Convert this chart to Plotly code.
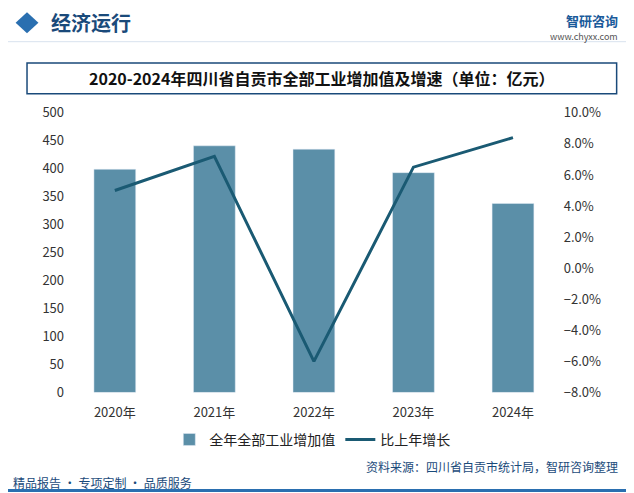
import plotly.graph_objects as go

years = ['2020年', '2021年', '2022年', '2023年', '2024年']
value = [399, 441, 435, 393, 338]
growth = [5.0, 7.2, -6.0, 6.5, 8.4]

font = 'Noto Sans CJK SC'
fig = go.Figure()
fig.add_trace(go.Bar(x=years, y=value, name='全年全部工业增加值', marker_color='#5b8fa8', width=0.42))
fig.add_trace(go.Scatter(x=years, y=growth, name='比上年增长', yaxis='y2', mode='lines',
                         line=dict(color='#1a5a73', width=3)))

fig.update_layout(
    width=634, height=493, margin=dict(l=0, r=0, t=0, b=0),
    plot_bgcolor='white', paper_bgcolor='white',
    font=dict(family=font, size=13, color='#333'),
    xaxis=dict(domain=[0.09, 0.875], showline=False, tickfont=dict(size=13),
               ticks='outside', ticklen=8, tickcolor='rgba(0,0,0,0)'),
    yaxis=dict(domain=[0.21, 0.80], range=[0, 500], dtick=50, showgrid=False, tickfont=dict(size=13)),
    yaxis2=dict(overlaying='y', side='right', range=[-8, 10], dtick=2, ticksuffix='%',
                tickformat='.1f', showgrid=False, tickfont=dict(size=13)),
    legend=dict(orientation='h', x=0.48, xanchor='center', y=0.11, yanchor='middle',
                font=dict(size=14, color='#222')),
    bargap=0.5,
    shapes=[
        dict(type='rect', xref='paper', yref='paper', x0=0.03, x1=0.96, y0=0.84, y1=0.905,
             line=dict(color='#1a4a7a', width=1.5), fillcolor='white', layer='below'),
        dict(type='path', xref='paper', yref='paper',
             path='M 0.012 0.99 L 0.030 1.012 L 0.048 0.99 L 0.030 0.968 Z',
             line_width=0, fillcolor='#2a6fb0'),
        dict(type='line', xref='paper', yref='paper', x0=0, x1=1, y0=0.95, y1=0.95,
             line=dict(color='#d8e2ee', width=1)),
        dict(type='line', xref='paper', yref='paper', x0=0, x1=1, y0=0.003, y1=0.003,
             line=dict(color='#2a6fb0', width=3)),
    ],
    annotations=[
        dict(text='<b>经济运行</b>', x=0.065, y=0.99, xref='paper', yref='paper', showarrow=False,
             xanchor='left', yanchor='middle', font=dict(size=20, color='#1a4a7a')),
        dict(text='<b>智研咨询</b>', x=0.965, y=0.995, xref='paper', yref='paper', showarrow=False,
             xanchor='right', yanchor='middle', font=dict(size=13, color='#1a5a9a')),
        dict(text='www.chyxx.com', x=0.965, y=0.96, xref='paper', yref='paper', showarrow=False,
             xanchor='right', yanchor='middle', font=dict(size=9, color='#555')),
        dict(text='<b>2020-2024年四川省自贡市全部工业增加值及增速（单位：亿元）</b>', x=0.495, y=0.873,
             xref='paper', yref='paper', showarrow=False, yanchor='middle',
             font=dict(size=16, color='#111')),
        dict(text='资料来源：四川省自贡市统计局，智研咨询整理', x=0.965, y=0.053, xref='paper', yref='paper',
             showarrow=False, xanchor='right', yanchor='middle', font=dict(size=12, color='#1a4a7a')),
        dict(text='精品报告 · 专项定制 · 品质服务', x=0.005, y=0.02, xref='paper', yref='paper',
             showarrow=False, xanchor='left', yanchor='middle', font=dict(size=12, color='#1a4a7a')),
    ],
)
fig.write_html('out.html')
